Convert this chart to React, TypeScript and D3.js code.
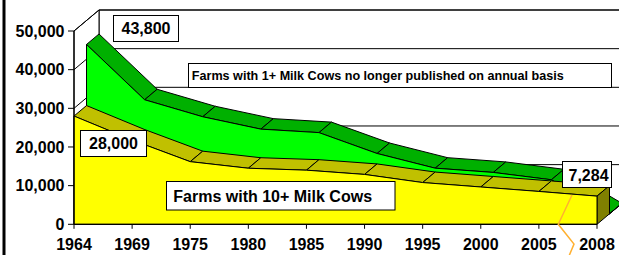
import React from 'react';
import * as d3 from 'd3';

// ---- data ----
const categories = ['1964', '1969', '1975', '1980', '1985', '1990', '1995', '2000', '2005', '2008'];
const farms10Plus = [28000, 21800, 16200, 14500, 14000, 12900, 10800, 9650, 8500, 7284];
const farms1Plus: (number | null)[] = [43800, 29500, 25100, 21900, 21000, 15600, 11800, 10700, 8800, null];
const yTicks = [0, 10000, 20000, 30000, 40000, 50000];
const seriesNames = ['Farms with 10+ Milk Cows', 'Farms with 1+ Milk Cows no longer published on annual basis'];
const labelFirst10 = '28,000';
const labelFirst1 = '43,800';
const labelLast10 = '7,284';

const W = 619;
const H = 255;
const DX = 25;
const DY = -21;
const FONT = '"Liberation Sans", Arial, sans-serif';

export default function App() {
  const x = d3.scalePoint<string>().domain(categories).range([74, 597]);
  const y = d3.scaleLinear().domain([0, 50000]).range([224.3, 31]);
  const n = categories.length;

  const pt = (i: number, v: number, d: number): [number, number] => [
    (x(categories[i]) as number) + d * DX,
    y(v) + d * DY,
  ];
  const poly = (pts: [number, number][]) => d3.line()(pts.concat([pts[0]])) as string;

  const series = [
    { vals: farms1Plus.map((v) => v ?? 0), d0: 0.5, d1: 1, front: '#00FF00', top: '#00B000', end: '#008000' },
    { vals: farms10Plus, d0: 0, d1: 0.5, front: '#FFFF00', top: '#C0C000', end: '#808000' },
  ];

  const x0 = x(categories[0]) as number;
  const xN = x(categories[n - 1]) as number;
  const yTop = y(50000);
  const yBase = y(0);

  return (
    <svg width={W} height={H} style={{ position: 'absolute', left: 0, top: 0, background: '#fff' }} fontFamily={FONT}>
      <rect x={0} y={0} width={W} height={H} fill="#fff" />
      {/* left frame line */}
      <rect x={2.5} y={0} width={3} height={H} fill="#000" />

      {/* back wall */}
      <path d={poly([[x0 + DX, yTop + DY], [xN + DX, yTop + DY], [xN + DX, yBase + DY], [x0 + DX, yBase + DY]])} fill="#fff" stroke="#000" strokeWidth={1} />
      {/* side wall */}
      <path d={poly([[x0, yTop], [x0 + DX, yTop + DY], [x0 + DX, yBase + DY], [x0, yBase]])} fill="#fff" stroke="#000" strokeWidth={1} />
      {/* gridlines */}
      {yTicks.map((t) => (
        <g key={'g' + t}>
          <line x1={x0} y1={y(t)} x2={x0 + DX} y2={y(t) + DY} stroke="#000" strokeWidth={1} />
          <line x1={x0 + DX} y1={y(t) + DY} x2={xN + DX} y2={y(t) + DY} stroke="#000" strokeWidth={1} />
        </g>
      ))}
      {/* floor */}
      <path d={poly([[x0, yBase], [xN, yBase], [xN + DX, yBase + DY], [x0 + DX, yBase + DY]])} fill="#fff" stroke="none" />

      {/* series (back to front) */}
      {series.map((s, si) => {
        const tops = [];
        for (let i = 0; i < n - 1; i++) {
          tops.push(
            <path
              key={'t' + i}
              d={poly([pt(i, s.vals[i], s.d0), pt(i + 1, s.vals[i + 1], s.d0), pt(i + 1, s.vals[i + 1], s.d1), pt(i, s.vals[i], s.d1)])}
              fill={s.top}
              stroke="#000"
              strokeWidth={1}
              strokeLinejoin="round"
            />
          );
        }
        const last = s.vals[n - 1];
        const endFace = poly([pt(n - 1, 0, s.d0), pt(n - 1, last, s.d0), pt(n - 1, last, s.d1), pt(n - 1, 0, s.d1)]);
        const frontPts: [number, number][] = [pt(0, 0, s.d0)];
        s.vals.forEach((v, i) => frontPts.push(pt(i, v, s.d0)));
        frontPts.push(pt(n - 1, 0, s.d0));
        return (
          <g key={'s' + si}>
            {tops}
            <path d={endFace} fill={s.end} stroke="#000" strokeWidth={1} />
            <path d={poly(frontPts)} fill={s.front} stroke="#000" strokeWidth={1} strokeLinejoin="round" />
          </g>
        );
      })}

      {/* axes */}
      <line x1={x0} y1={yTop} x2={x0} y2={yBase} stroke="#000" strokeWidth={1.2} />
      <line x1={x0} y1={yBase} x2={xN} y2={yBase} stroke="#000" strokeWidth={1.2} />
      {yTicks.map((t) => (
        <g key={'yt' + t}>
          <line x1={x0 - 6} y1={y(t)} x2={x0} y2={y(t)} stroke="#000" strokeWidth={1} />
          <text x={64.5} y={y(t) + 5.7} textAnchor="end" fontSize={16} fontWeight="bold" fill="#000">
            {d3.format(',')(t)}
          </text>
        </g>
      ))}
      {categories.map((c) => (
        <g key={'xt' + c}>
          <line x1={x(c) as number} y1={yBase} x2={x(c) as number} y2={yBase + 4.5} stroke="#000" strokeWidth={1} />
          <text x={x(c) as number} y={250} textAnchor="middle" fontSize={16} fontWeight="bold" fill="#000">
            {c}
          </text>
        </g>
      ))}

      {/* break marker */}
      <polyline points="572,195 558.3,224.3 574,244 569,256" fill="none" stroke="#FFB030" strokeWidth={1.5} />

      {/* annotation boxes */}
      <g fontWeight="bold" fill="#000">
        <rect x={113.5} y={15.5} width={65} height={26} fill="#fff" stroke="#000" strokeWidth={1} />
        <text x={146} y={34} textAnchor="middle" fontSize={16}>{labelFirst1}</text>

        <rect x={188.5} y={63.5} width={423} height={24} fill="#fff" stroke="#000" strokeWidth={1} />
        <text x={191.8} y={80} fontSize={12.6}>{seriesNames[1]}</text>

        <rect x={80.5} y={130.5} width={66} height={26} fill="#fff" stroke="#000" strokeWidth={1} />
        <text x={113.5} y={149} textAnchor="middle" fontSize={16}>{labelFirst10}</text>

        <rect x={166.5} y={181.5} width={228.5} height={28.5} fill="#fff" stroke="#000" strokeWidth={1} />
        <text x={173.3} y={202} fontSize={16}>{seriesNames[0]}</text>

        <rect x={562.5} y={161.5} width={49} height={26} fill="#fff" stroke="#000" strokeWidth={1} />
        <text x={568.5} y={180.5} fontSize={16}>{labelLast10}</text>
      </g>
    </svg>
  );
}
